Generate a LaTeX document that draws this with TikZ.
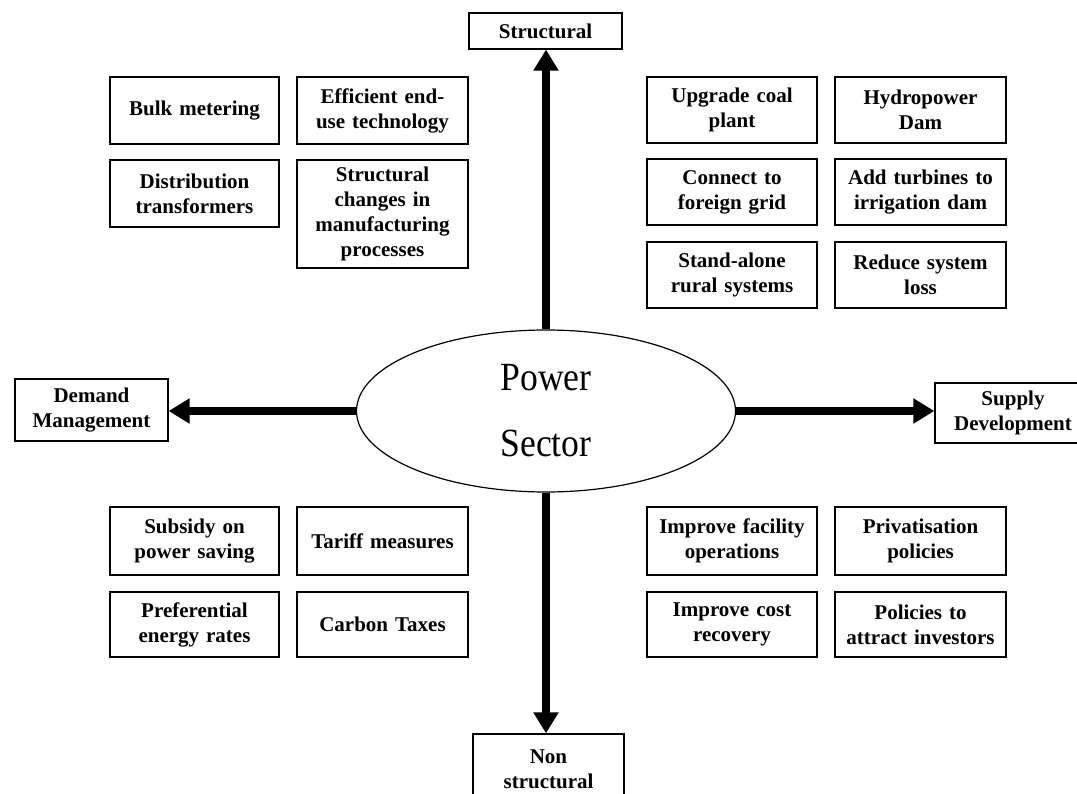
\documentclass[tikz,border=0pt]{standalone}
\usepackage{fontspec}
\setmainfont{Liberation Serif}
\newfontfamily\psfont[FakeStretch=0.89]{Liberation Serif}
\usetikzlibrary{arrows.meta,shapes.geometric}
\tikzset{
  bx/.style={draw, line width=1.3pt, rectangle, inner sep=0pt, align=center,
    font=\bfseries\fontsize{21}{25}\selectfont, text width=#1},
  bx/.default=160pt,
  arr/.style={line width=8pt, -{Triangle[length=21pt,width=24pt]}},
}
\begin{document}
\begin{tikzpicture}[x=1pt,y=-1pt]
\useasboundingbox (0,0) rectangle (1077,794);
% centre
\node[draw, ellipse, line width=1.2pt, minimum width=379pt, minimum height=162pt, inner sep=0pt,
  align=center, font=\psfont\fontsize{40}{66}\selectfont] (ps) at (546,411) {Power\\Sector};
% axis boxes
\node[bx=145pt, minimum width=153pt, minimum height=36pt] (st) at (545.5,31) {Structural};
\node[bx=145pt, minimum width=151pt, minimum height=70pt] (ns) at (548.5,769) {Non\\structural};
\node[bx=145pt, minimum width=153pt, minimum height=62pt] (dm) at (91.5,410) {Demand\\Management};
\node[bx=145pt, minimum width=156pt, minimum height=60pt] (sd) at (1013,413) {Supply\\Development};
% arrows
\draw[arr] (ps.north) -- (ps.north |- st.south);
\draw[arr] (ps.south) -- (ps.south |- ns.north);
\draw[arr] (ps.west) -- (ps.west -| dm.east);
\draw[arr] (ps.east) -- (ps.east -| sd.west);
% top-left
\node[bx, minimum width=169pt, minimum height=67pt] (bm) at (194.5,110.5) {Bulk metering};
\node[bx, minimum width=171pt, minimum height=67pt] (ee) at (382.5,110.5) {Efficient end-\\use technology};
\node[bx, minimum width=169pt, minimum height=67pt] (dt) at (194.5,193.5) {Distribution\\transformers};
\node[bx, minimum width=171pt, minimum height=108pt] (sc) at (382.5,214) {Structural\\changes in\\manufacturing\\processes};
% top-right
\node[bx, minimum width=170pt, minimum height=66pt] (uc) at (732,110) {Upgrade coal\\plant};
\node[bx, minimum width=171pt, minimum height=66pt] (hd) at (920.5,110) {Hydropower\\Dam};
\node[bx, minimum width=170pt, minimum height=66pt] (cf) at (732,192) {Connect to\\foreign grid};
\node[bx, minimum width=171pt, minimum height=66pt] (at) at (920.5,192) {Add turbines to\\irrigation dam};
\node[bx, minimum width=170pt, minimum height=66pt] (sa) at (732,275) {Stand-alone\\rural systems};
\node[bx, minimum width=171pt, minimum height=66pt] (rs) at (920.5,275) {Reduce system\\loss};
% bottom-left
\node[bx, minimum width=169pt, minimum height=68pt] (sp) at (194.5,541) {Subsidy on\\power saving};
\node[bx, minimum width=171pt, minimum height=68pt] (tm) at (382.5,541) {Tariff measures};
\node[bx, minimum width=169pt, minimum height=65pt] (pe) at (194.5,624.5) {Preferential\\energy rates};
\node[bx, minimum width=171pt, minimum height=65pt] (ct) at (382.5,624.5) {Carbon Taxes};
% bottom-right
\node[bx, minimum width=170pt, minimum height=68pt] (if) at (732,541) {Improve facility\\operations};
\node[bx, minimum width=171pt, minimum height=68pt] (pp) at (920.5,541) {Privatisation\\policies};
\node[bx, minimum width=170pt, minimum height=65pt] (ic) at (732,624.5) {Improve cost\\recovery};
\node[bx, minimum width=171pt, minimum height=65pt] (pa) at (920.5,624.5) {Policies to\\attract investors};
\end{tikzpicture}
\end{document}
